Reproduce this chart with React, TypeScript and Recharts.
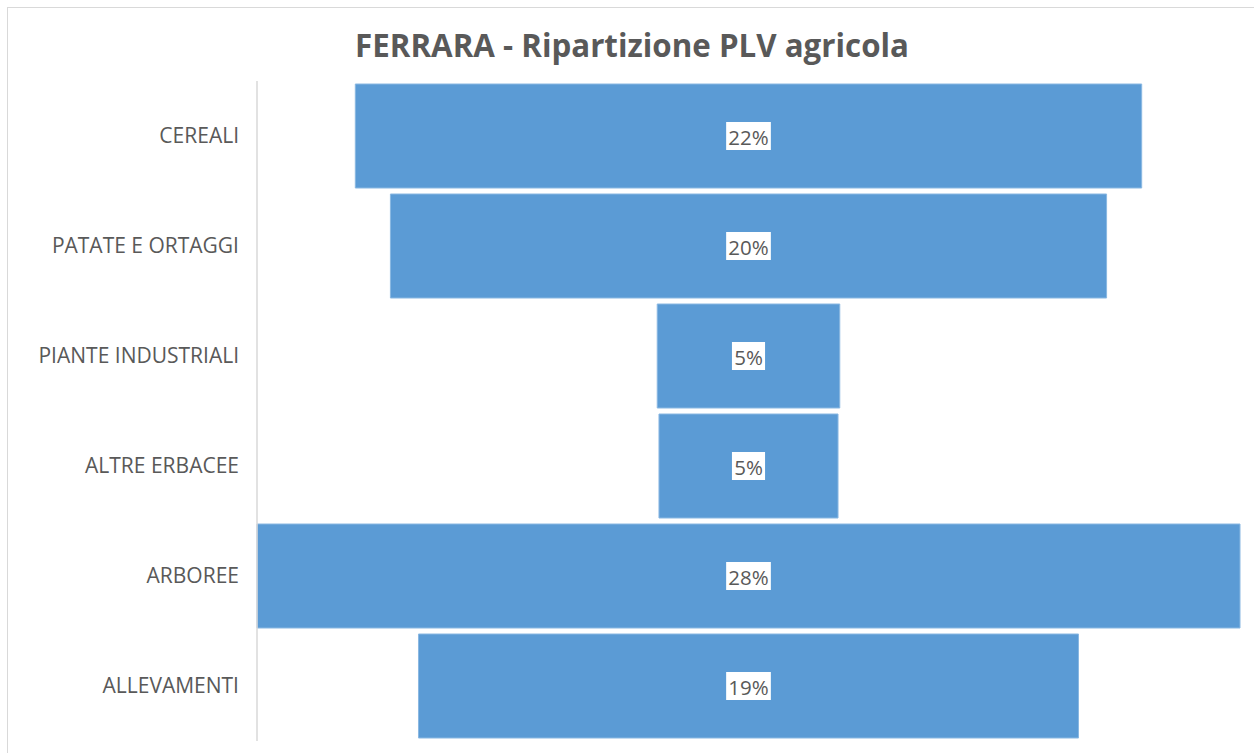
import React from "react";
import { BarChart, Bar, XAxis, YAxis, LabelList } from "recharts";

const categories = ["CEREALI", "PATATE E ORTAGGI", "PIANTE INDUSTRIALI", "ALTRE ERBACEE", "ARBOREE", "ALLEVAMENTI"];
const shares = [22.4, 20.4, 5.2, 5.1, 28.0, 18.8];
const title = "FERRARA - Ripartizione PLV agricola";

const maxShare = Math.max(...shares);
const data = categories.map((c, i) => ({
  name: c,
  pad: (maxShare - shares[i]) / 2,
  value: shares[i],
}));

const FONT = "'Open Sans', 'Noto Sans', sans-serif";

const renderLabel = (props: any) => {
  const { x, y, width, height, value } = props;
  const cx = Number(x) + Number(width) / 2;
  const cy = Number(y) + Number(height) / 2;
  const txt = `${Math.round(Number(value))}%`;
  const w = (txt.length - 1) * 11.6 + 16.5 + 5;
  return (
    <g>
      <rect x={cx - w / 2} y={cy - 14} width={w} height={28} fill="#ffffff" />
      <text x={cx} y={cy + 1} textAnchor="middle" dominantBaseline="central" fill="#595959" fontSize={20.5} fontFamily={FONT}>
        {txt}
      </text>
    </g>
  );
};

export default function App() {
  return (
    <div style={{ position: "absolute", left: 7, top: 7, width: 1260, height: 760, border: "1px solid #d9d9d9", background: "#fff" }}>
      <div
        style={{
          position: "absolute",
          left: 0,
          top: 19,
          width: 1248,
          textAlign: "center",
          fontFamily: FONT,
          fontWeight: 700,
          fontSize: 31.3,
          color: "#595959",
          lineHeight: "36px",
        }}
      >
        {title}
      </div>
      <div style={{ position: "absolute", left: 0, top: 1 }}>
        <BarChart
          width={1246}
          height={746}
          data={data}
          layout="vertical"
          margin={{ top: 72, right: 14, bottom: 14, left: 0 }}
          barCategoryGap={3}
        >
          <XAxis type="number" hide domain={[0, maxShare]} />
          <YAxis
            type="category"
            dataKey="name"
            width={249}
            tickLine={false}
            tickSize={0}
            tickMargin={18}
            axisLine={{ stroke: "#d9d9d9", strokeWidth: 1.5 }}
            tick={{ fill: "#595959", fontSize: 21, fontFamily: FONT }}
          />
          <Bar dataKey="pad" stackId="a" fill="transparent" isAnimationActive={false} />
          <Bar dataKey="value" stackId="a" fill="#5b9bd5" stroke="#8ab8e2" strokeWidth={1} isAnimationActive={false}>
            <LabelList dataKey="value" content={renderLabel} />
          </Bar>
        </BarChart>
      </div>
    </div>
  );
}
